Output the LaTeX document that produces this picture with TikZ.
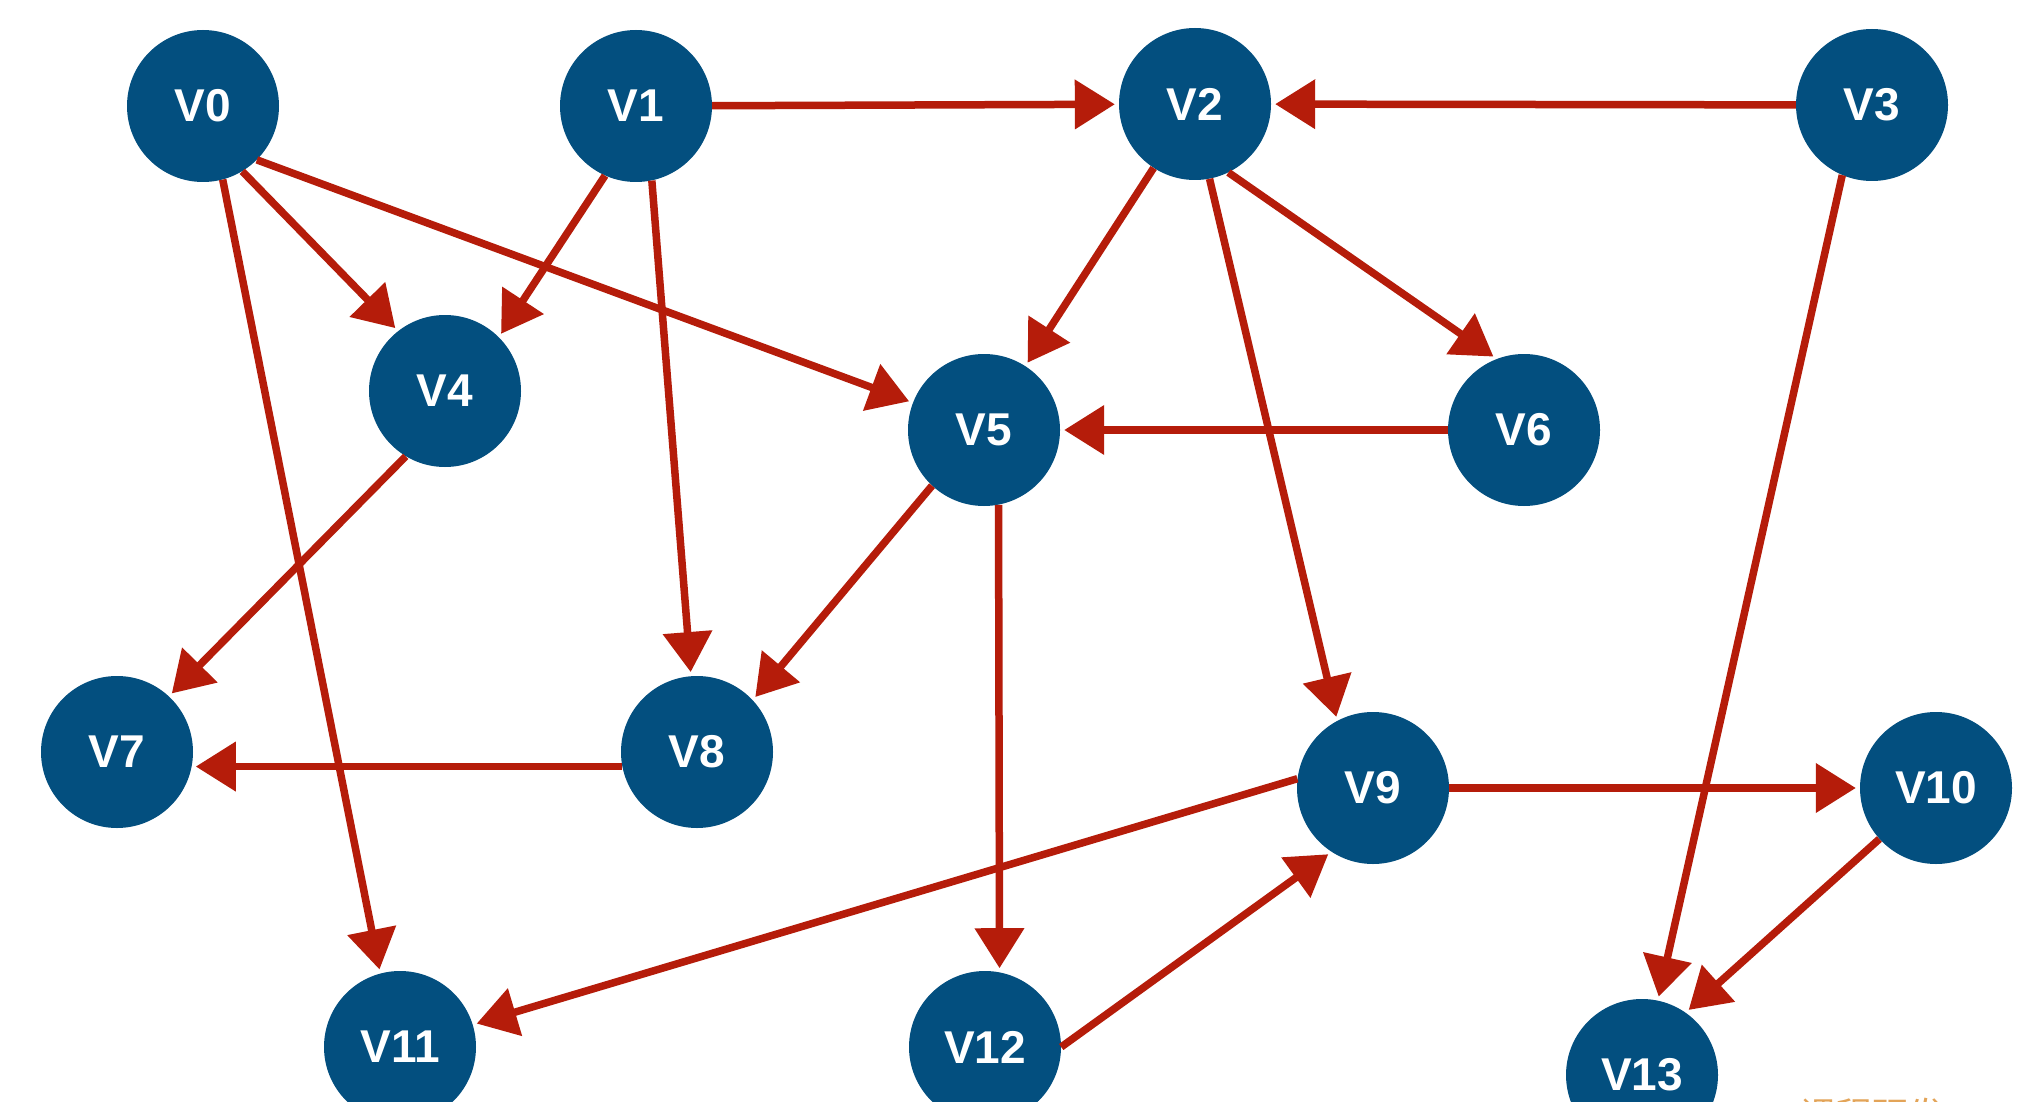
\documentclass[tikz,border=0pt]{standalone}
\usepackage{fontspec}
\setmainfont{Liberation Sans}
\newfontfamily\cjkfont{Noto Sans CJK SC}
\usetikzlibrary{arrows.meta}
\definecolor{nodeblue}{HTML}{034F7F}
\definecolor{edgered}{HTML}{B51C0A}
\definecolor{wmorange}{HTML}{E3A458}
\tikzset{
  vtx/.style={circle, fill=nodeblue, draw=none, minimum size=152pt, inner sep=0pt,
    text=white, font=\bfseries\fontsize{46}{50}\selectfont},
  edge/.style={draw=edgered, line width=7.5pt, shorten >=4pt,
    -{Triangle[length=40pt,width=48pt]}}
}
\begin{document}
\begin{tikzpicture}[x=1pt,y=-1pt]
\useasboundingbox (0,0) rectangle (2024,1102);
\fill[white] (0,0) rectangle (2024,1102);

\node[vtx] (V0) at (203,106) {V0};
\node[vtx] (V1) at (636,106) {V1};
\node[vtx] (V2) at (1195,104) {V2};
\node[vtx] (V3) at (1872,105) {V3};
\node[vtx] (V4) at (445,391) {V4};
\node[vtx] (V5) at (984,430) {V5};
\node[vtx] (V6) at (1524,430) {V6};
\node[vtx] (V7) at (117,752) {V7};
\node[vtx] (V8) at (697,752) {V8};
\node[vtx] (V9) at (1373,788) {V9};
\node[vtx] (V10) at (1936,788) {V10};
\node[vtx] (V11) at (400,1047) {V11};
\node[vtx] (V12) at (985,1047) {V12};
\node[vtx] (V13) at (1642,1075) {V13};

\node[anchor=base west, inner sep=0pt, text=wmorange, font=\cjkfont\fontsize{36}{40}\selectfont] (wm) at (1800,1128) {课程研发};

\draw[edge] (V0.-59) -- (V4.128);
\draw[edge] (V0.-45) -- (V5.159);
\draw[edge] (V0.-75) -- (V11.105);
\draw[edge] (V1) -- (V2);
\draw[edge] (V1.-114) -- (V4.45);
\draw[edge] (V1.-78) -- (V8);
\draw[edge] (V2) -- (V5);
\draw[edge] (V2.-64) -- (V6.111);
\draw[edge] (V2.-79) -- (V9.118);
\draw[edge] (V3) -- (V2);
\draw[edge] (V3.-113) -- (V13.78);
\draw[edge] (V4.-121) -- (V7.47);
\draw[edge] (V5.-133) -- (V8.43);
\draw[edge] (V5.-79) -- (V12.79);
\draw[edge] (V6) -- (V5);
\draw[edge] (V8.191) -- (V7.-11);
\draw[edge] (V9) -- (V10);
\draw[edge] (V9.173) -- (V11.17);
\draw[edge] (V12.east) -- (V9.237);
\draw[edge] (V10.-138) -- (V13.55);
\end{tikzpicture}
\end{document}
